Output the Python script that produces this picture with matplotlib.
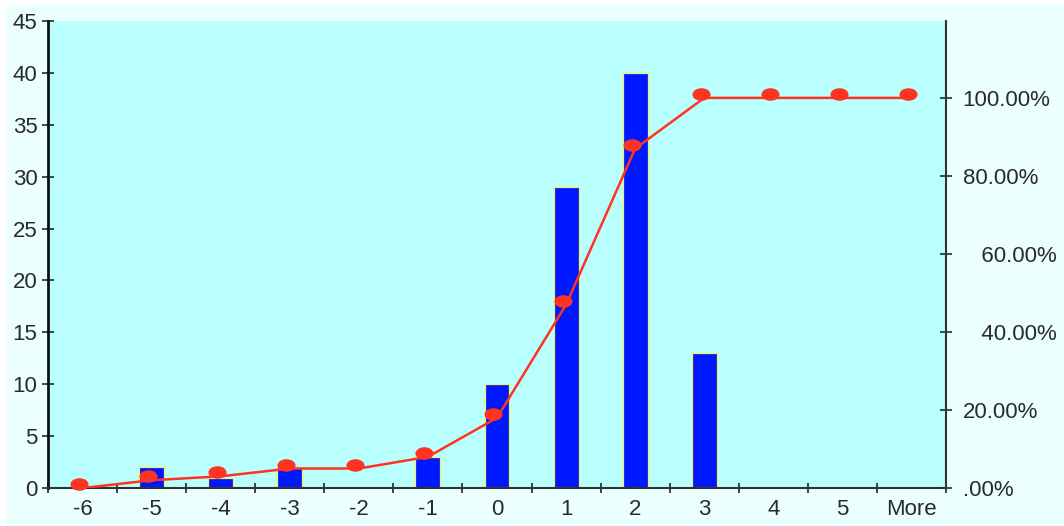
import matplotlib.pyplot as plt
import numpy as np
from matplotlib.patches import Rectangle
from matplotlib.path import Path
from matplotlib.transforms import Affine2D, ScaledTranslation

bins = ['-6', '-5', '-4', '-3', '-2', '-1', '0', '1', '2', '3', '4', '5', 'More']
frequency = [0, 2, 1, 2, 0, 3, 10, 29, 40, 13, 0, 0, 0]
cumulative_pct = [0.0, 2.0, 3.0, 5.0, 5.0, 8.0, 18.0, 47.0, 87.0, 100.0, 100.0, 100.0, 100.0]

right_ticks = [0, 20, 40, 60, 80, 100]
right_labels = ['.00%', '20.00%', '   40.00%', '   60.00%', '80.00%', '100.00%']

plt.rcParams['font.family'] = ['Liberation Sans', 'DejaVu Sans']
fs = 16

fig = plt.figure(figsize=(10.64, 5.26), dpi=100, facecolor='white')
# pale chart area behind everything
fig.patches.append(Rectangle((6 / 1064, 0), 1, 521 / 526, transform=fig.transFigure,
                             facecolor='#eafffe', edgecolor='none', zorder=-10))

ax = fig.add_axes([0.0451, 0.0722, 0.8440, 0.8878])
ax.set_facecolor('#b9fffd')

x = np.arange(len(bins))
ax.bar(x, frequency, width=0.36, color='#0018ff', edgecolor='#f4f060', linewidth=0.9, zorder=2)

ax.set_xlim(-0.5, len(bins) - 0.5)
ax.set_ylim(0, 45)
ax.set_yticks(range(0, 46, 5))
ax.set_xticks(x)
ax.set_xticklabels(bins)
ax.set_xticks(np.arange(-0.5, len(bins), 1.0), minor=True)
ax.tick_params(axis='x', which='major', length=0, labelsize=fs, pad=8, colors='#2a2a2a')
ax.tick_params(axis='x', which='minor', direction='inout', length=7, width=1.2, color='#222222')
ax.tick_params(axis='y', direction='inout', length=9, width=1.2, labelsize=fs, pad=3,
               colors='#2a2a2a')

for side in ['top', 'right']:
    ax.spines[side].set_visible(False)
ax.spines['left'].set_linewidth(2)
ax.spines['left'].set_color('#111111')
ax.spines['bottom'].set_linewidth(1.5)
ax.spines['bottom'].set_color('#333333')

# cumulative percentage on the secondary axis
ax2 = ax.twinx()
ax2.set_ylim(0, 119.7)
ax2.set_yticks(right_ticks)
ax2.set_yticklabels(right_labels)
ax2.tick_params(axis='y', direction='inout', length=8, width=1.2, labelsize=fs, pad=8,
                colors='#2a2a2a')
for side in ['top', 'left', 'bottom']:
    ax2.spines[side].set_visible(False)
ax2.spines['right'].set_linewidth(1.5)
ax2.spines['right'].set_color('#333333')

ax2.plot(x, cumulative_pct, color='#ff3322', linewidth=1.8, zorder=3)

ellipse = Path.unit_circle().transformed(Affine2D().scale(1.5, 1.0))
shift = ax2.transData + ScaledTranslation(-0.035, 0.04, fig.dpi_scale_trans)
ax2.plot(x, cumulative_pct, linestyle='none', marker=ellipse, markersize=12,
         color='#ff3322', transform=shift, zorder=4, clip_on=False)

fig.savefig('out.png', dpi=100, facecolor=fig.get_facecolor())
